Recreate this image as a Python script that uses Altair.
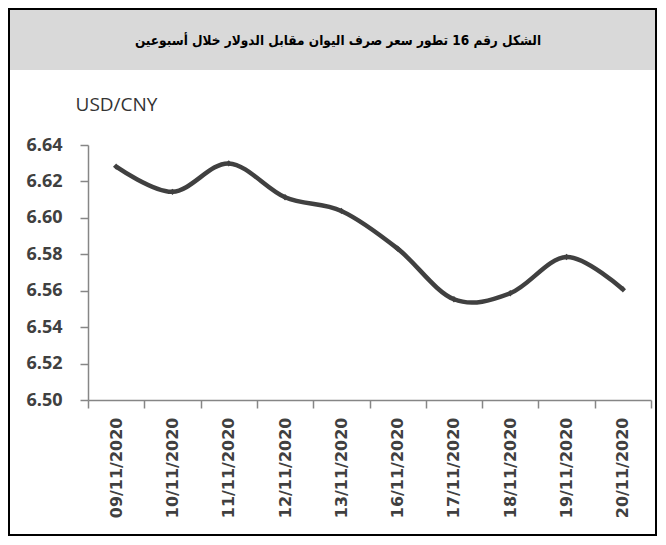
import altair as alt
import pandas as pd

dates = ["09/11/2020", "10/11/2020", "11/11/2020", "12/11/2020", "13/11/2020",
         "16/11/2020", "17/11/2020", "18/11/2020", "19/11/2020", "20/11/2020"]
rates = [6.6281, 6.6143, 6.6299, 6.6113, 6.6038, 6.5831, 6.5553, 6.5586, 6.5785, 6.5608]
y_ticks = [6.50, 6.52, 6.54, 6.56, 6.58, 6.60, 6.62, 6.64]
title_text = "الشكل رقم 16 تطور سعر صرف اليوان مقابل الدولار خلال أسبوعين"
y_title = "USD/CNY"

df = pd.DataFrame({"date": dates, "rate": rates})
one = pd.DataFrame({"k": [0]})

W, H = 563, 255
PL, PT = 80, 137

xenc = alt.X("date:N", sort=None,
             scale=alt.Scale(type="band", paddingInner=0, paddingOuter=0),
             axis=alt.Axis(title=None, labelAngle=270, labelFont="DejaVu Sans",
                           labelFontWeight="bold", labelFontSize=16, labelColor="#404040",
                           labelPadding=9, tickBand="extent", tickSize=8, tickColor="#868686",
                           tickWidth=1.5, domainColor="#868686", domainWidth=1.5, grid=False))
yenc = alt.Y("rate:Q", scale=alt.Scale(domain=[6.50, 6.64], nice=False, zero=False),
             axis=alt.Axis(values=y_ticks, format=".2f", title=y_title, titleAngle=0,
                           titleX=28, titleY=-41, titleAlign="center", titleBaseline="middle",
                           titleFont="Open Sans", titleFontSize=19, titleFontWeight="normal",
                           titleColor="#333333", labelFont="Open Sans", labelFontWeight="bold",
                           labelFontSize=18, labelColor="#404040", labelPadding=18,
                           tickSize=8, tickColor="#868686", tickWidth=1.5,
                           domainColor="#868686", domainWidth=1.5, grid=False))

header = alt.Chart(one).mark_rect(fill="#d9d9d9").encode(
    x=alt.value(1 - PL), x2=alt.value(648 - PL), y=alt.value(1 - PT), y2=alt.value(62 - PT))
frame = alt.Chart(one).mark_rect(filled=False, stroke="black", strokeWidth=2).encode(
    x=alt.value(1 - PL), x2=alt.value(648 - PL), y=alt.value(1 - PT), y2=alt.value(527 - PT))
title = alt.Chart(one).mark_text(text=title_text, font="'DejaVu Sans Condensed', 'DejaVu Sans'",
                                 fontWeight="bold", fontSize=13.5, color="black", align="center",
                                 baseline="middle").encode(
    x=alt.value(330 - PL), y=alt.value(33 - PT))

line = alt.Chart(df).mark_line(color="#404040", strokeWidth=4.5, interpolate="cardinal").encode(
    x=xenc, y=yenc)
pts = alt.Chart(df).mark_point(shape="diamond", filled=True, color="#404040", size=40,
                               opacity=1).encode(x=xenc, y=yenc)

chart = alt.layer(header, frame, title, line, pts).properties(
    width=W, height=H,
    autosize=alt.AutoSizeParams(type="none"),
    padding={"left": PL, "top": PT, "right": 650 - PL - W, "bottom": 529 - PT - H},
    background="white",
).configure_view(stroke=None)

chart.save("out.html", embed_options={"renderer": "svg", "actions": False})
